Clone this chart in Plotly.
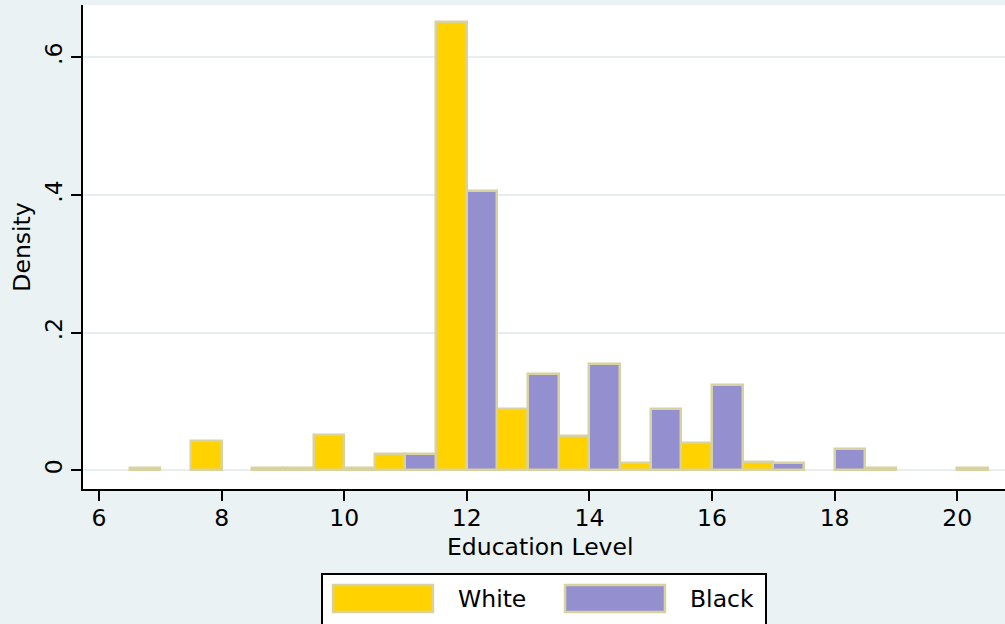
import plotly.graph_objects as go

# ---- data (density by years of education) ----
edu_levels = [7, 8, 9, 10, 11, 12, 13, 14, 15, 16, 17, 18, 19, 20]
white_density = [0.004, 0.043, 0.004, 0.051, 0.024, 0.651, 0.089, 0.050, 0.011, 0.039, 0.012, None, 0.004, None]
black_density = [None, None, 0.004, 0.004, 0.023, 0.406, 0.140, 0.155, 0.089, 0.124, 0.011, 0.031, None, 0.004]
series_names = ["White", "Black"]
x_title = "Education Level"
y_title = "Density"
x_ticks = [6, 8, 10, 12, 14, 16, 18, 20]
y_ticks = [0, 0.2, 0.4, 0.6]
y_tick_labels = ["0", ".2", ".4", ".6"]

# ---- style ----
W, H = 1005, 624
ML, MR, MT, MB = 83, 0, 5, 135
BG = "#EAF2F3"
YELLOW = "#FFD200"
PURPLE = "#9490D0"
TAN = "#D8D2A0"
FONT = "DejaVu Sans"
FS = 23.5

fig = go.Figure()
fig.add_trace(go.Bar(x=edu_levels, y=white_density, width=0.5, offset=-0.5,
                     name=series_names[0], marker=dict(color=YELLOW, line=dict(color=TAN, width=2.5)),
                     showlegend=False))
fig.add_trace(go.Bar(x=edu_levels, y=black_density, width=0.5, offset=0.0,
                     name=series_names[1], marker=dict(color=PURPLE, line=dict(color=TAN, width=2.5)),
                     showlegend=False))

pw = W - ML - MR
ph = H - MT - MB


def px_x(p):
    return (p - ML) / pw


def px_y(p):
    return (H - MB - p) / ph


# custom legend (Stata style)
shapes = [
    dict(type="rect", xref="paper", yref="paper", x0=px_x(322), x1=px_x(766), y0=px_y(574), y1=px_y(640),
         line=dict(color="black", width=2), fillcolor="white", layer="above"),
    dict(type="rect", xref="paper", yref="paper", x0=px_x(333), x1=px_x(433), y0=px_y(585), y1=px_y(612),
         line=dict(color=TAN, width=2.5), fillcolor=YELLOW, layer="above"),
    dict(type="rect", xref="paper", yref="paper", x0=px_x(565), x1=px_x(665), y0=px_y(585), y1=px_y(612),
         line=dict(color=TAN, width=2.5), fillcolor=PURPLE, layer="above"),
]
txt_font = dict(family=FONT, size=FS, color="black")
annotations = [
    dict(text=series_names[0], xref="paper", yref="paper", x=px_x(456), y=px_y(599),
         xanchor="left", yanchor="middle", showarrow=False, font=txt_font),
    dict(text=series_names[1], xref="paper", yref="paper", x=px_x(688), y=px_y(599),
         xanchor="left", yanchor="middle", showarrow=False, font=txt_font),
    dict(text=x_title, xref="paper", yref="paper", x=px_x(540.5), y=px_y(547),
         xanchor="center", yanchor="middle", showarrow=False, font=txt_font),
]

fig.update_layout(
    width=W, height=H,
    margin=dict(l=ML, r=MR, t=MT, b=MB, pad=0, autoexpand=False),
    paper_bgcolor=BG, plot_bgcolor="white",
    barmode="overlay", bargap=0,
    font=txt_font,
    shapes=shapes, annotations=annotations,
    xaxis=dict(range=[5.739, 20.78], tickvals=x_ticks, ticks="outside", ticklen=10, tickwidth=2,
               tickcolor="black", showline=True, linecolor="black", linewidth=2, showgrid=False,
               zeroline=False, automargin=False, ticklabelstandoff=-3,
               tickfont=dict(family=FONT, size=FS)),
    yaxis=dict(range=[-0.0272, 0.676], tickvals=y_ticks, ticktext=y_tick_labels, tickangle=-90,
               ticks="outside", ticklen=10, tickwidth=2, tickcolor="black", showline=True,
               linecolor="black", linewidth=2, showgrid=True, gridcolor="#E6EEF0", gridwidth=2,
               zeroline=False, automargin=False,
               title=dict(text=y_title, standoff=2, font=dict(family=FONT, size=FS)),
               tickfont=dict(family=FONT, size=FS)),
)

fig.write_html("out.html", config={"displayModeBar": False},
               post_script="document.body.style.margin='0';document.body.style.overflow='hidden';")
